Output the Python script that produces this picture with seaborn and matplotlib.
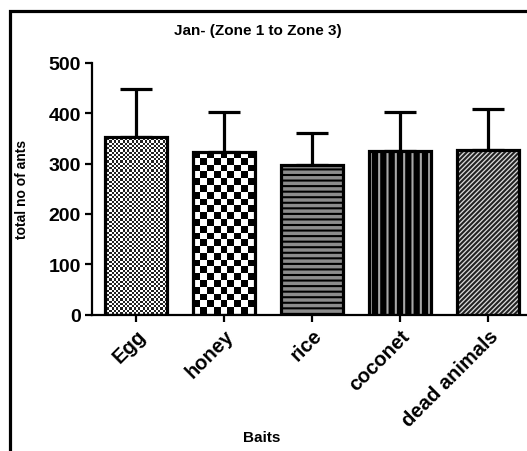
import numpy as np
import seaborn as sns
import matplotlib.pyplot as plt
from matplotlib.patches import Rectangle
from matplotlib.colors import ListedColormap

baits = ["Egg", "honey", "rice", "coconet", "dead animals"]
mean_ants = [352, 324, 298, 326, 328]
err_up = [96, 79, 63, 77, 81]
yticks = [0, 100, 200, 300, 400, 500]

sns.set_style("ticks")
plt.rcParams['font.family'] = ['Liberation Sans', 'DejaVu Sans']
plt.rcParams['font.weight'] = 'bold'
plt.rcParams['text.color'] = 'black'
plt.rcParams['axes.labelcolor'] = 'black'
plt.rcParams['xtick.color'] = 'black'
plt.rcParams['ytick.color'] = 'black'
plt.rcParams['hatch.linewidth'] = 1.5

fig = plt.figure(figsize=(5.27, 4.52), dpi=100)
ax = fig.add_axes([92 / 527, 1 - 315.5 / 452, (527 - 92) / 527, 251.5 / 452])

sns.barplot(x=baits, y=mean_ants, color='white', width=0.7, errorbar=None,
            ax=ax, zorder=2)

ax.set_xlim(-0.5, 4.44)
ax.set_ylim(0, 500)


def checker(p, cell_px, c1, c2):
    x0, y0, w, h = p.get_x(), p.get_y(), p.get_width(), p.get_height()
    (px0, py0), (px1, py1) = ax.transData.transform([(x0, y0), (x0 + w, y0 + h)])
    nx = max(1, int(round((px1 - px0) / cell_px)))
    ny = max(1, int(round((py1 - py0) / cell_px)))
    grid = np.add.outer(np.arange(ny), np.arange(nx)) % 2
    im = ax.imshow(grid, cmap=ListedColormap([c1, c2]), extent=(x0, x0 + w, y0, y0 + h),
                   origin='lower', interpolation='nearest', aspect='auto', zorder=2.5)
    im.set_clip_path(p)


# fills: (face, hatch, hatch colour); first two bars get a checker
styles = [None, None, ('#8c8c8c', '---', 'black'), ('black', '||', '#a8a8a8'),
          ('#dcdcdc', '///////', '#222222')]
bars = list(ax.patches)
for i, p in enumerate(bars):
    p.set_linewidth(0)
    if i == 0:
        checker(p, 2.2, 'white', '#222222')
    elif i == 1:
        checker(p, 6.7, 'white', 'black')
    else:
        face, hatch, hc = styles[i]
        p.set_facecolor(face)
        p.set_edgecolor(hc)
        p.set_hatch(hatch)
    ax.add_patch(Rectangle((p.get_x(), p.get_y()), p.get_width(), p.get_height(),
                           fill=False, edgecolor='black', linewidth=2.3, zorder=3))

xs = [p.get_x() + p.get_width() / 2 for p in bars]
ax.errorbar(xs, mean_ants, yerr=[np.zeros(len(err_up)), err_up], fmt='none',
            ecolor='black', elinewidth=2.3, capsize=11.5, capthick=2.3, zorder=1)

ax.set_xlim(-0.5, 4.44)
ax.set_ylim(0, 500)
ax.set_yticks(yticks)
ax.set_yticklabels([str(t) for t in yticks], fontsize=14, fontweight='bold')
ax.set_xticks(range(len(baits)))
ax.set_xticklabels(baits, rotation=45, ha='right', rotation_mode='anchor',
                   fontsize=14.5, fontweight='bold')
ax.tick_params(axis='both', width=1.6, length=5, color='black', pad=3)
sns.despine(ax=ax)
for s in ['left', 'bottom']:
    ax.spines[s].set_linewidth(1.6)
    ax.spines[s].set_color('black')

ax.set_ylabel('total no of ants', fontsize=10, fontweight='bold')
ax.yaxis.set_label_coords(-(92 - 29) / 435, 0.5)
fig.text(262 / 527, 1 - 438 / 452, 'Baits', ha='center', va='center',
         fontsize=11, fontweight='bold')
fig.text(258 / 527, 1 - 31 / 452, 'Jan- (Zone 1 to Zone 3)', ha='center', va='center',
         fontsize=11, fontweight='bold')

fig.patches.append(Rectangle((9.5 / 527, -0.1), 1.2, 1.1 - 11.5 / 452, fill=False,
                             edgecolor='black', linewidth=2.3, transform=fig.transFigure,
                             figure=fig))

fig.savefig('out.png', dpi=100)
